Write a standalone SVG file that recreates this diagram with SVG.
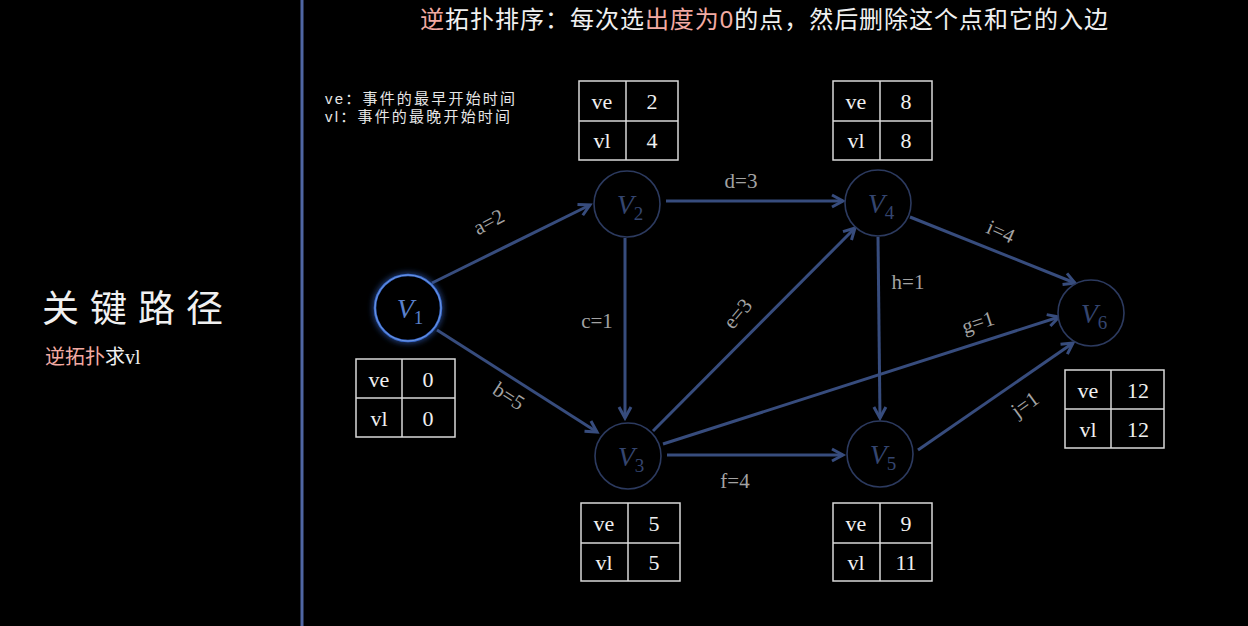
<svg xmlns="http://www.w3.org/2000/svg" width="1248" height="626" viewBox="0 0 1248 626">
<style>
.cn{font-family:"Liberation Sans","Noto Sans CJK SC",sans-serif;}
.pink{fill:#f3aba3;}
.wt{fill:#f0f0f0;}
.node{fill:#000;stroke:#2c3a5f;stroke-width:1.6;}
.nl{font-family:"Liberation Serif",serif;font-size:28px;fill:#34456f;text-anchor:middle;}
.sub{font-style:normal;font-size:19px;}
.edge{stroke:#374c7d;stroke-width:3;fill:none;marker-end:url(#arr);}
.el{font-family:"Liberation Serif",serif;font-size:21px;fill:#a3a3a3;text-anchor:middle;}
.tb{fill:#000;stroke:#d9d9d9;stroke-width:1.5;}
.tl{stroke:#d9d9d9;stroke-width:1.5;}
.tt{font-family:"Liberation Serif",serif;font-size:22px;fill:#f0f0f0;text-anchor:middle;}
</style>
<defs>
<marker id="arr" markerUnits="userSpaceOnUse" markerWidth="18" markerHeight="18" refX="14" refY="9" orient="auto">
<path d="M3,3 L14,9 L3,15" fill="none" stroke="#374c7d" stroke-width="3" stroke-linejoin="miter"/>
</marker>
<filter id="glow" x="-50%" y="-50%" width="200%" height="200%">
<feGaussianBlur stdDeviation="3" result="b"/>
<feMerge><feMergeNode in="b"/><feMergeNode in="SourceGraphic"/></feMerge>
</filter>
</defs>
<rect width="1248" height="626" fill="#000"/>
<line x1="302" y1="0" x2="302" y2="626" stroke="#4f66a3" stroke-width="3"/>

<text class="cn" x="420" y="28" font-size="24" textLength="688" lengthAdjust="spacing"><tspan class="pink">逆</tspan><tspan class="wt">拓扑排序：每次选</tspan><tspan class="pink">出度为0</tspan><tspan class="wt">的点，然后删除这个点和它的入边</tspan></text>

<text class="cn" x="325" y="104" font-size="15" fill="#e6e6e6" letter-spacing="2.2">ve：事件的最早开始时间</text>
<text class="cn" x="325" y="122" font-size="15" fill="#e6e6e6" letter-spacing="2.2">vl：事件的最晚开始时间</text>

<text class="cn wt" x="42" y="322" font-size="37" letter-spacing="11">关键路径</text>
<text x="45" y="364" font-size="20"><tspan class="cn pink">逆拓扑</tspan><tspan class="cn wt">求</tspan><tspan font-family="Liberation Serif,serif" fill="#f0f0f0">vl</tspan></text>

<g id="connectors">
<line class="edge" x1="432" y1="283" x2="590" y2="205"/>
<line class="edge" x1="437" y1="330" x2="597" y2="432"/>
<line class="edge" x1="625" y1="238" x2="625" y2="418"/>
<line class="edge" x1="666" y1="201" x2="843" y2="201"/>
<line class="edge" x1="653" y1="431" x2="855" y2="228"/>
<line class="edge" x1="667" y1="455" x2="843" y2="455"/>
<line class="edge" x1="663" y1="444" x2="1059" y2="317"/>
<line class="edge" x1="878" y1="237" x2="880" y2="418"/>
<line class="edge" x1="910" y1="217" x2="1075" y2="283"/>
<line class="edge" x1="918" y1="450" x2="1073" y2="343"/>
<text class="el" transform="translate(492,228) rotate(-28)">a=2</text>
<text class="el" transform="translate(505,402) rotate(33)">b=5</text>
<text class="el" x="597" y="328">c=1</text>
<text class="el" x="741" y="188">d=3</text>
<text class="el" transform="translate(743,318) rotate(-50)">e=3</text>
<text class="el" x="735" y="488">f=4</text>
<text class="el" transform="translate(980,329) rotate(-18)">g=1</text>
<text class="el" x="908" y="289">h=1</text>
<text class="el" transform="translate(998,238) rotate(24)">i=4</text>
<text class="el" transform="translate(1029,410) rotate(-36)">j=1</text>
</g>

<g id="V1">
<circle cx="408" cy="308" r="33" fill="#000" stroke="#3a6cd0" stroke-width="2.5" filter="url(#glow)"/>
<circle cx="408" cy="308" r="33" fill="none" stroke="#6d95e0" stroke-width="1"/>
<text class="nl" x="410" y="318" style="fill:#5a80cc"><tspan font-style="italic">V</tspan><tspan class="sub" dy="6">1</tspan></text>
</g>
<g id="V2">
<circle class="node" cx="627" cy="204" r="33"/>
<text class="nl" x="630" y="214"><tspan font-style="italic">V</tspan><tspan class="sub" dy="6">2</tspan></text>
</g>
<g id="V3">
<circle class="node" cx="628" cy="456" r="33"/>
<text class="nl" x="631" y="466"><tspan font-style="italic">V</tspan><tspan class="sub" dy="6">3</tspan></text>
</g>
<g id="V4">
<circle class="node" cx="878" cy="203" r="33"/>
<text class="nl" x="881" y="213"><tspan font-style="italic">V</tspan><tspan class="sub" dy="6">4</tspan></text>
</g>
<g id="V5">
<circle class="node" cx="880" cy="454" r="33"/>
<text class="nl" x="883" y="464"><tspan font-style="italic">V</tspan><tspan class="sub" dy="6">5</tspan></text>
</g>
<g id="V6">
<circle class="node" cx="1091" cy="313" r="33"/>
<text class="nl" x="1094" y="323"><tspan font-style="italic">V</tspan><tspan class="sub" dy="6">6</tspan></text>
</g>

<g id="T1">
<rect class="tb" x="356" y="359" width="99" height="78"/>
<line class="tl" x1="402" y1="359" x2="402" y2="437"/><line class="tl" x1="356" y1="398" x2="455" y2="398"/>
<text class="tt" x="379" y="387">ve</text><text class="tt" x="428" y="387">0</text>
<text class="tt" x="379" y="426">vl</text><text class="tt" x="428" y="426">0</text>
</g>
<g id="T2">
<rect class="tb" x="579" y="81" width="99" height="79"/>
<line class="tl" x1="626" y1="81" x2="626" y2="160"/><line class="tl" x1="579" y1="121" x2="678" y2="121"/>
<text class="tt" x="602" y="109">ve</text><text class="tt" x="652" y="109">2</text>
<text class="tt" x="602" y="148">vl</text><text class="tt" x="652" y="148">4</text>
</g>
<g id="T4">
<rect class="tb" x="833" y="81" width="99" height="79"/>
<line class="tl" x1="880" y1="81" x2="880" y2="160"/><line class="tl" x1="833" y1="121" x2="932" y2="121"/>
<text class="tt" x="856" y="109">ve</text><text class="tt" x="906" y="109">8</text>
<text class="tt" x="856" y="148">vl</text><text class="tt" x="906" y="148">8</text>
</g>
<g id="T3">
<rect class="tb" x="581" y="503" width="99" height="78"/>
<line class="tl" x1="628" y1="503" x2="628" y2="581"/><line class="tl" x1="581" y1="543" x2="680" y2="543"/>
<text class="tt" x="604" y="531">ve</text><text class="tt" x="654" y="531">5</text>
<text class="tt" x="604" y="570">vl</text><text class="tt" x="654" y="570">5</text>
</g>
<g id="T5">
<rect class="tb" x="833" y="503" width="99" height="78"/>
<line class="tl" x1="880" y1="503" x2="880" y2="581"/><line class="tl" x1="833" y1="543" x2="932" y2="543"/>
<text class="tt" x="856" y="531">ve</text><text class="tt" x="906" y="531">9</text>
<text class="tt" x="856" y="570">vl</text><text class="tt" x="906" y="570">11</text>
</g>
<g id="T6">
<rect class="tb" x="1065" y="370" width="99" height="78"/>
<line class="tl" x1="1111" y1="370" x2="1111" y2="448"/><line class="tl" x1="1065" y1="409" x2="1164" y2="409"/>
<text class="tt" x="1088" y="398">ve</text><text class="tt" x="1138" y="398">12</text>
<text class="tt" x="1088" y="437">vl</text><text class="tt" x="1138" y="437">12</text>
</g>
</svg>
